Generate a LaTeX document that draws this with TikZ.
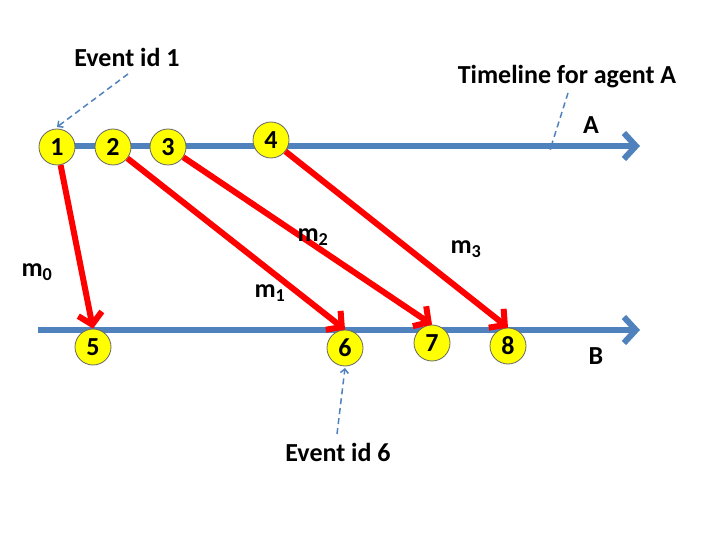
\documentclass[tikz,border=0pt]{standalone}
\usepackage{fontspec}
\setmainfont{Carlito}
\usetikzlibrary{arrows.meta}
\definecolor{tlblue}{RGB}{79,129,189}
\definecolor{evyellow}{RGB}{255,255,0}
\definecolor{msgred}{RGB}{255,0,0}
\tikzset{
  ev/.style={circle,draw=black!60,line width=0.8pt,fill=evyellow,minimum size=36pt,inner sep=0pt,font=\fontsize{26}{28}\selectfont\bfseries},
  timeline/.style={draw=tlblue,line width=6pt,-{Straight Barb[length=12pt,width=26pt,line width=6pt]}},
  msg/.style={draw=msgred,line width=6pt,-{Straight Barb[length=11pt,width=24pt,line width=6pt]}},
  note/.style={draw=tlblue,line width=1.5pt,dashed,dash pattern=on 6pt off 4pt,-{Straight Barb[length=4pt,width=8pt,line width=1.5pt]}},
  lbl/.style={font=\fontsize{26}{28}\selectfont\bfseries,inner sep=1pt},
}
\begin{document}
\begin{tikzpicture}[x=1pt,y=-1pt]
\useasboundingbox (0,0) rectangle (720,540);
% timelines
\coordinate (aS) at (57,146);
\coordinate (aE) at (640,146);
\coordinate (bS) at (38,330);
\coordinate (bE) at (640,330);
\draw[timeline] (aS) -- (aE);
\draw[timeline] (bS) -- (bE);
% events
\node[ev] (c1) at (57,147) {1};
\node[ev] (c2) at (113,147) {2};
\node[ev] (c3) at (168,147) {3};
\node[ev] (c4) at (271,140) {4};
\node[ev] (c5) at (93,347) {5};
\node[ev] (c6) at (345,348) {6};
\node[ev] (c7) at (432,343) {7};
\node[ev] (c8) at (508,346) {8};
% messages
\draw[msg] (c1) -- (c5.north);
\draw[msg] (c2) -- (c6.north);
\draw[msg] (c3) -- (c7.north);
\draw[msg] (c4) -- (c8.north);
% labels
\node[lbl] (m0) at (37,272) {m$_\mathbf{0}$};
\node[lbl] (m1) at (270,293) {m$_\mathbf{1}$};
\node[lbl] (m2) at (313,237) {m$_\mathbf{2}$};
\node[lbl] (m3) at (466,249) {m$_\mathbf{3}$};
\node[lbl] (la) at (591,125) {A};
\node[lbl] (lb) at (596,356) {B};
% notes
\node[lbl] (n1) at (127,57) {Event id 1};
\node[lbl] (nA) at (567,77) {Timeline for agent A};
\node[lbl] (n6) at (338,452) {Event id 6};
\coordinate (t1) at (57,127);
\coordinate (tA) at (550,150);
\coordinate (t6) at (345,368);
\draw[note] (128,74) -- (t1);
\draw[note] (568,93) -- (tA);
\draw[note] (337,434) -- (t6);
\end{tikzpicture}
\end{document}
